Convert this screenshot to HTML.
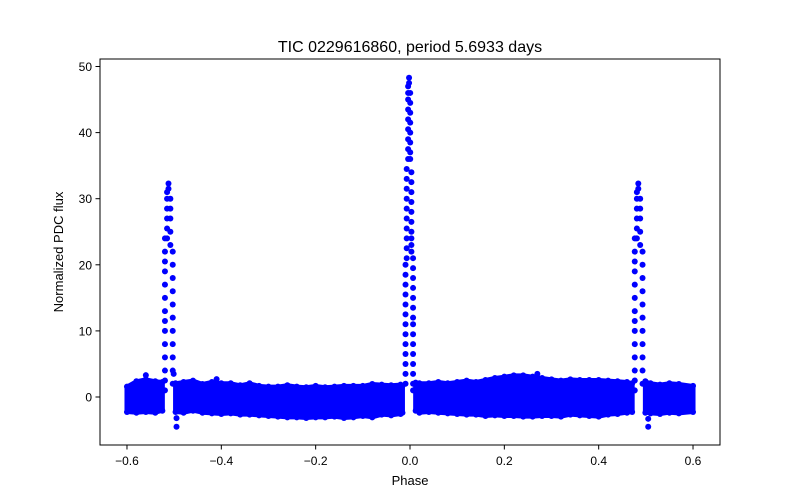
<!DOCTYPE html>
<html><head><meta charset="utf-8"><style>
body{margin:0;background:#fff}
svg{display:block;font-family:"Liberation Sans","DejaVu Sans",sans-serif}
</style></head><body>
<svg id="chart" width="800" height="500" viewBox="0 0 800 500">
<rect width="800" height="500" fill="#fff"/>
<text x="410" y="52" text-anchor="middle" font-size="16">TIC 0229616860, period 5.6933 days</text>
<g id="marks"></g>
<rect x="100" y="59" width="620" height="386" fill="none" stroke="#000" stroke-width="1"/>
<g id="xaxis"></g>
<g id="yaxis"></g>
<text x="410" y="485" text-anchor="middle" font-size="13">Phase</text>
<text x="63" y="252" text-anchor="middle" font-size="13" transform="rotate(-90 63 252)">Normalized PDC flux</text>
</svg>
<script>
// Binned noise envelope of the out-of-flare flux (null breaks segments)
const bandPhase=[-0.6,-0.58,-0.56,-0.54,-0.525,null,-0.497,-0.48,-0.46,-0.44,-0.42,-0.40,-0.38,-0.36,-0.34,-0.32,-0.30,-0.28,-0.26,-0.24,-0.22,-0.20,-0.18,-0.16,-0.14,-0.12,-0.10,-0.08,-0.06,-0.04,-0.02,-0.016,null,0.012,0.02,0.04,0.06,0.08,0.10,0.12,0.14,0.16,0.18,0.20,0.22,0.24,0.26,0.28,0.30,0.32,0.34,0.36,0.38,0.40,0.42,0.44,0.46,0.471,null,0.499,0.51,0.53,0.55,0.57,0.6];
const bandLow=[-2.2,-2.3,-2.2,-2.3,-2.0,null,-2.2,-2.3,-2.0,-2.3,-2.4,-2.5,-2.4,-2.6,-2.6,-2.7,-2.8,-2.9,-3.0,-3.0,-3.1,-3.0,-3.0,-2.9,-3.1,-3.0,-2.8,-3.0,-2.6,-2.7,-2.5,-2.3,null,-2.0,-2.3,-2.2,-2.3,-2.4,-2.5,-2.6,-2.6,-2.8,-2.7,-2.8,-2.8,-2.9,-2.9,-2.8,-2.8,-2.9,-2.6,-2.7,-2.8,-2.9,-2.6,-2.5,-2.3,-2.2,null,-2.3,-2.4,-2.5,-2.3,-2.4,-2.2];
const bandHigh=[1.5,2.3,2.6,2.3,2.2,null,2.0,2.2,2.4,1.9,2.2,2.0,2.0,1.7,2.0,1.6,1.5,1.5,1.7,1.5,1.4,1.6,1.4,1.5,1.6,1.6,1.6,1.9,1.8,1.7,1.8,1.6,null,2.1,2.0,2.0,2.2,2.0,2.2,2.4,2.2,2.5,2.8,3.0,3.2,3.2,3.0,2.8,2.6,2.4,2.6,2.5,2.5,2.5,2.4,2.3,2.2,2.0,null,2.3,2.0,1.8,2.0,1.9,1.6];
// Individual flare / outlier points
const peakPhase=[
-0.5195,-0.5195,-0.5195,-0.5195,-0.5195,-0.5195,-0.5195,-0.5195,-0.5195,-0.5195,-0.5195,-0.5195,-0.5195,-0.5195,
-0.515,-0.515,-0.515,-0.515,-0.515,-0.515,-0.512,-0.512,
-0.508,-0.508,-0.508,-0.508,-0.508,
-0.503,-0.503,-0.503,-0.503,-0.503,-0.503,-0.503,-0.503,-0.503,-0.503,-0.503,
-0.0095,-0.0095,-0.0095,-0.0095,-0.0095,-0.0095,-0.0095,-0.0095,-0.0095,-0.0095,-0.0095,-0.0095,-0.0095,
-0.007,-0.007,-0.007,-0.007,-0.007,-0.007,-0.007,-0.007,-0.007,-0.007,
-0.004,-0.004,-0.004,-0.004,-0.004,-0.004,-0.004,-0.004,-0.004,
-0.002,-0.002,
0.0005,0.0005,0.0005,0.0005,0.0005,0.0005,0.0005,0.0005,
0.003,0.003,0.003,0.003,0.003,0.003,0.003,0.003,0.003,0.003,
0.0065,0.0065,0.0065,0.0065,0.0065,0.0065,0.0065,0.0065,0.0065,0.0065,0.0065,0.0065,0.0065,0.0065,0.0065,
0.4765,0.4765,0.4765,0.4765,0.4765,0.4765,0.4765,0.4765,0.4765,0.4765,0.4765,0.4765,0.4765,0.4765,
0.481,0.481,0.481,0.481,0.481,0.481,0.484,0.484,
0.488,0.488,0.488,0.488,0.488,
0.493,0.493,0.493,0.493,0.493,0.493,0.493,0.493,0.493,0.493,0.493,
-0.495,-0.495,-0.501,0.505,0.505,0.27,-0.56,-0.41];
const peakFlux=[
1,2.5,4,6,8,10,11.5,13,15,17,19,20.5,22,24,
24,25.5,27,28.5,30,31,32.3,31.5,
30,28.5,27,25,23,
22,20,18,16,14,12,10,8,6,4,2,
2,3.5,5,6.5,8,9.5,11,12.5,14,15.5,17,18.5,20,
21,22.5,24,25.5,27,28.5,30,31.5,33,34.5,
36,37.5,39,40.5,42,43.5,45,46,47,
48.3,47.5,
46,44.5,43,41.5,40,38.5,37,36,
34,32.5,31,29.5,28,26.5,25,24,23,22,
21,19.5,18,16.5,15,13.5,12,11,9.5,8,6.5,5,3.5,2,1,
1,2.5,4,6,8,10,11.5,13,15,17,19,20.5,22,24,
24,25.5,27,28.5,30,31,32.3,31.5,
30,28.5,27,25,23,
22,20,18,16,14,12,10,8,6,4,2,
-4.5,-3.2,3.5,-4.5,-3.3,3.5,3.3,2.7];
const xTicks=[-0.6,-0.4,-0.2,0.0,0.2,0.4,0.6];
const xTickLabels=["−0.6","−0.4","−0.2","0.0","0.2","0.4","0.6"];
const yTicks=[0,10,20,30,40,50];
const yTickLabels=["0","10","20","30","40","50"];

const NS="http://www.w3.org/2000/svg";
const X=v=>410+(v)*471.7;
const Y=v=>397-v*6.61;
const C="#0000ff";
const marks=document.getElementById('marks');
function mk(t,a,p){const e=document.createElementNS(NS,t);for(const k in a)e.setAttribute(k,a[k]);(p||marks).appendChild(e);return e;}

let seg=[];
const segs=[];
for(let i=0;i<=bandPhase.length;i++){
  if(i===bandPhase.length||bandPhase[i]===null){if(seg.length)segs.push(seg);seg=[];}
  else seg.push(i);
}
segs.forEach(s=>{
  const top=s.map(i=>X(bandPhase[i])+','+Y(bandHigh[i]));
  const bot=s.slice().reverse().map(i=>X(bandPhase[i])+','+Y(bandLow[i]));
  const p=mk('polygon',{points:top.concat(bot).join(' '),fill:C,stroke:C,'stroke-width':5,'stroke-linejoin':'round'});
  
  
  s.forEach(i=>{
    const a=mk('circle',{cx:X(bandPhase[i]),cy:Y(bandHigh[i])-0.5,r:3,fill:C});
    
    
    const b=mk('circle',{cx:X(bandPhase[i]),cy:Y(bandLow[i])+0.5,r:3,fill:C});
    
    
  });
});
peakPhase.forEach((ph,i)=>{
  const c=mk('circle',{cx:X(ph),cy:Y(peakFlux[i]),r:3,fill:C});
  
  
});
const xa=document.getElementById('xaxis');
xTicks.forEach((t,i)=>{
  const l=mk('line',{x1:X(t),x2:X(t),y1:445,y2:449.5,stroke:'#000'},xa);
  
  
  const tx=mk('text',{x:X(t),y:465,'text-anchor':'middle','font-size':12},xa);
  tx.textContent=xTickLabels[i];
  
  
});
const ya=document.getElementById('yaxis');
yTicks.forEach((t,i)=>{
  const l=mk('line',{x1:95.5,x2:100,y1:Y(t),y2:Y(t),stroke:'#000'},ya);
  
  
  const tx=mk('text',{x:92,y:Y(t)+4.5,'text-anchor':'end','font-size':12},ya);
  tx.textContent=yTickLabels[i];
  
  
});
</script>
</body></html>
